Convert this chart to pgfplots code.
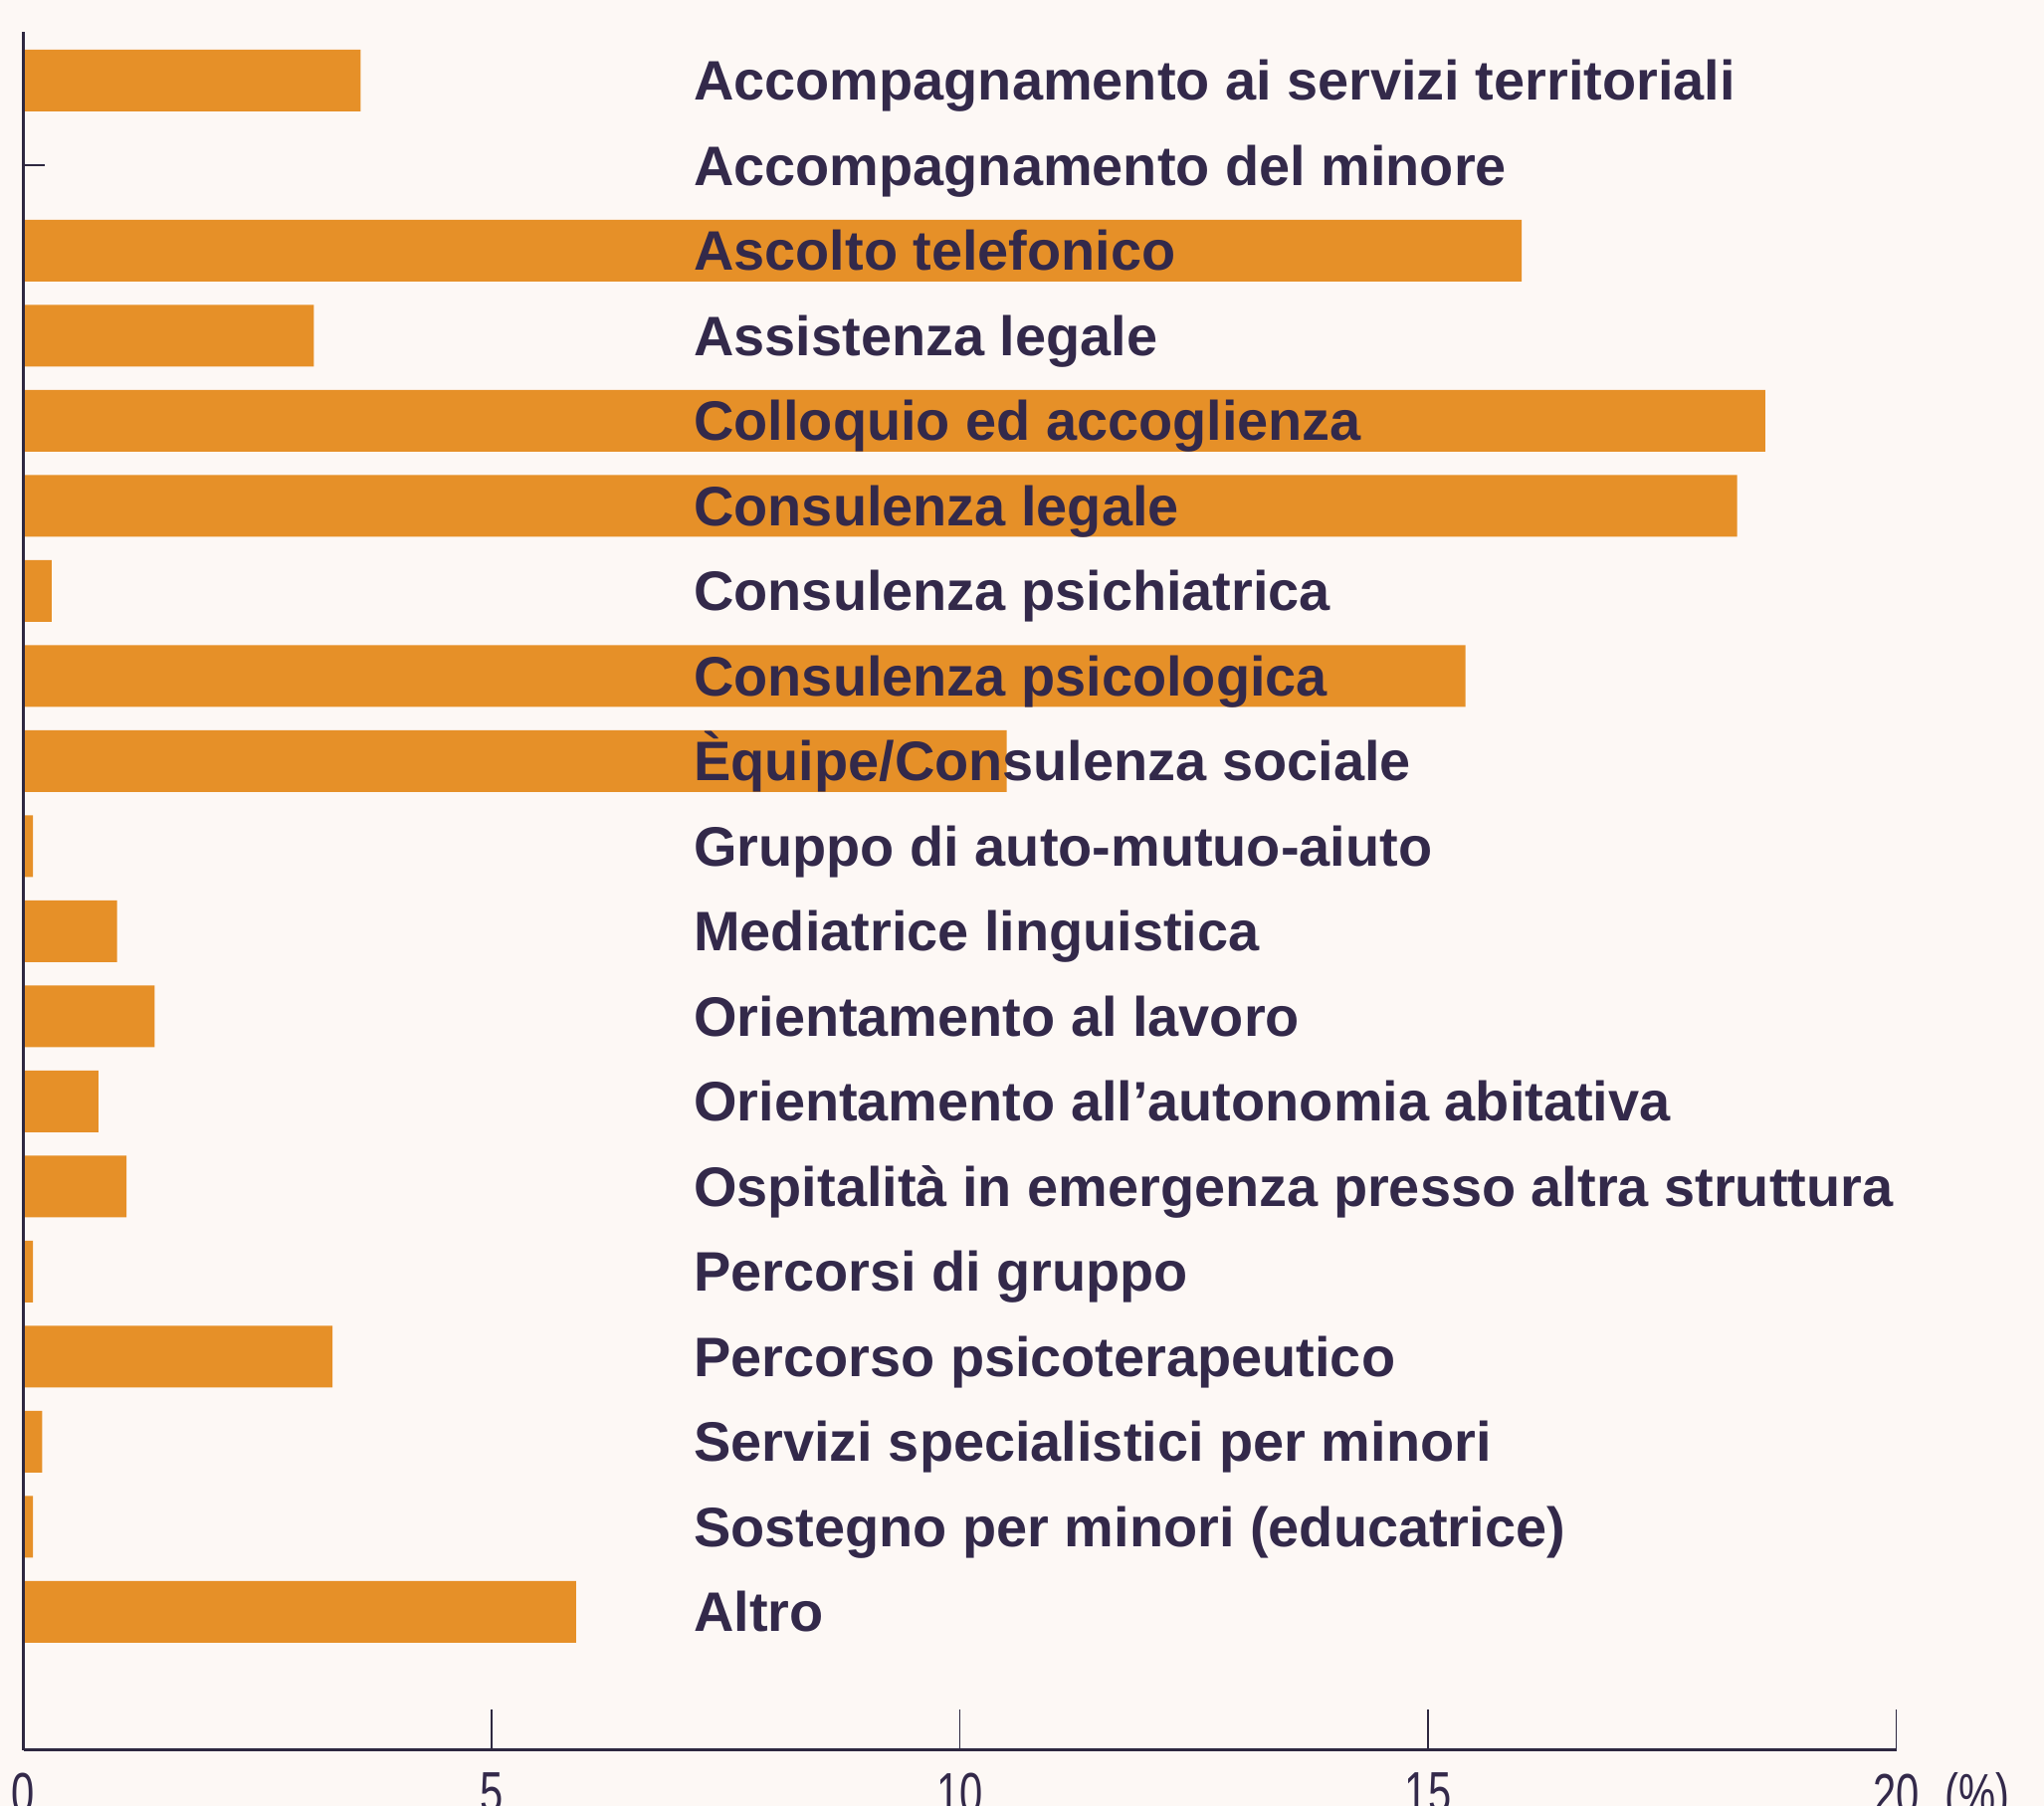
\documentclass[border=0pt]{standalone}
\usepackage{fontspec}
\setmainfont{Liberation Sans}
\newfontfamily\labfont{Liberation Sans}[BoldFont={Liberation Sans Bold}]
\newfontfamily\tickfont[FakeStretch=0.72]{Liberation Sans}
\usepackage{pgfplots}
\pgfplotsset{compat=1.18}
\definecolor{bgc}{HTML}{FDF8F5}
\definecolor{barc}{HTML}{E69028}
\definecolor{txtc}{HTML}{33294A}
\definecolor{axisc}{HTML}{2E2840}
\begin{document}
\begin{tikzpicture}
\path[use as bounding box] (0,0) rectangle (205.4mm,181.5mm);
\fill[bgc] (0,0) rectangle (205.4mm,181.5mm);
\begin{axis}[
  at={(2.36mm,5.6mm)}, anchor=south west,
  scale only axis, width=188.2mm, height=172.7mm,
  xmin=0, xmax=20, ymin=-1.626, ymax=18.573,
  axis lines=left,
  x axis line style={-, line width=0.3mm, color=axisc},
  y axis line style={-, line width=0.25mm, color=axisc},
  xtick={0,5,10,15,20},
  xticklabels={0,5,10,15,{20\makebox[0pt][l]{\hspace{0.45em}(\%)}}},
  tick align=inside, major tick length=4.1mm,
  xtick style={line width=0.15mm, color=axisc},
  xticklabel style={inner sep=0pt, yshift=-2.2mm, font=\tickfont\fontsize{16.5}{18}\selectfont, text=txtc},
  ytick={0,...,18},
  ytick style={draw=none},
  yticklabels={Altro, Sostegno per minori (educatrice), Servizi specialistici per minori, Percorso psicoterapeutico, Percorsi di gruppo, Ospitalità in emergenza presso altra struttura, Orientamento all’autonomia abitativa, Orientamento al lavoro, Mediatrice linguistica, Gruppo di auto-mutuo-aiuto, Èquipe/Consulenza sociale, Consulenza psicologica, Consulenza psichiatrica, Consulenza legale, Colloquio ed accoglienza, Assistenza legale, Ascolto telefonico, Accompagnamento del minore, Accompagnamento ai servizi territoriali},
  yticklabel style={anchor=base west, inner sep=0pt, xshift=67.3mm, yshift=-2.0mm, font=\labfont\bfseries\fontsize{15.9}{18}\selectfont, text=txtc},
  /pgf/number format/assume math mode=true,
  clip=false,
  axis on top=true,
]
\addplot[xbar, bar width=6.2mm, fill=barc, draw=none] coordinates {
(3.6,18) (0,17) (16.0,16) (3.1,15) (18.6,14) (18.3,13) (0.3,12) (15.4,11) (10.5,10)
(0.1,9) (1.0,8) (1.4,7) (0.8,6) (1.1,5) (0.1,4) (3.3,3) (0.2,2) (0.1,1) (5.9,0)
};
\addplot[axisc, line width=0.2mm, no marks] coordinates {(0,17) (0.23,17)};
\end{axis}
\end{tikzpicture}
\end{document}
